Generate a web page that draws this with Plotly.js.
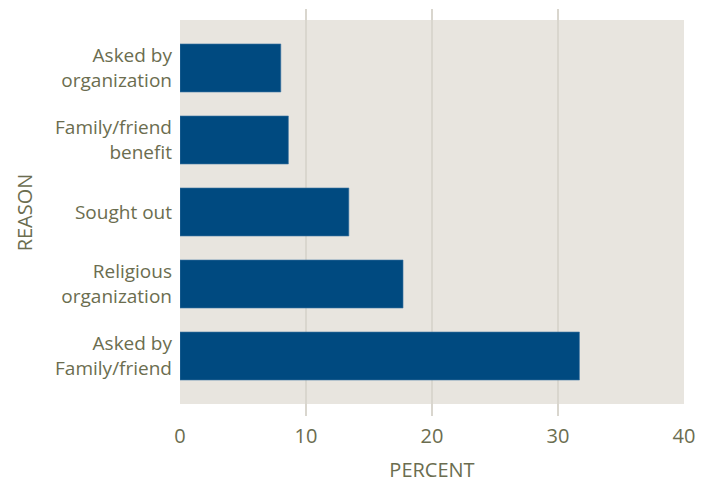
<!DOCTYPE html>
<html>
<head>
<meta charset="utf-8">
<script src="https://cdn.plot.ly/plotly-3.0.1.min.js"></script>
<style>html,body{margin:0;padding:0;background:#fff;}#chart{width:712px;height:483px;}</style>
</head>
<body>
<div id="chart"></div>
<script>
const categories = ["Asked by<br>organization", "Family/friend<br>benefit", "Sought out", "Religious<br>organization", "Asked by<br>Family/friend"];
const percents = [8.0, 8.6, 13.4, 17.7, 31.7];
const xTicks = [0, 10, 20, 30, 40];

const textColor = "#6b6d4f";
const fontFam = "'Open Sans', 'DejaVu Sans', sans-serif";

const trace = {
  type: "bar",
  orientation: "h",
  x: percents,
  y: categories,
  width: 0.667,
  marker: {color: "#004a80", line: {color: "#3f77a3", width: 0.6}},
  hoverinfo: "skip"
};

const layout = {
  width: 712, height: 483,
  margin: {l: 180, r: 28, t: 9, b: 67},
  paper_bgcolor: "#ffffff",
  plot_bgcolor: "rgba(0,0,0,0)",
  showlegend: false,
  font: {family: fontFam, color: textColor},
  xaxis: {
    range: [0, 40],
    tickvals: xTicks,
    ticktext: xTicks.map(String),
    showgrid: true, gridcolor: "#d9d6ce", gridwidth: 1.2,
    zeroline: false, showline: false, ticks: "",
    tickfont: {size: 20, color: textColor},
    ticklabelstandoff: 6,
    title: {text: "PERCENT", font: {size: 20, color: textColor}, standoff: 14},
    fixedrange: true
  },
  yaxis: {
    type: "category",
    range: [4.833, -0.819],
    showgrid: false, zeroline: false, showline: false, ticks: "",
    tickfont: {size: 19, color: textColor},
    ticklabelstandoff: 7,
    title: {text: "REASON", font: {size: 20, color: textColor}, standoff: 17},
    automargin: false,
    fixedrange: true
  },
  shapes: [{
    type: "rect", layer: "below",
    xref: "x domain", yref: "y domain",
    x0: 0, x1: 1, y0: 12/407, y1: 396/407,
    fillcolor: "#e8e5df", line: {width: 0}
  }]
};

Plotly.newPlot("chart", [trace], layout, {staticPlot: true, displayModeBar: false});
</script>
</body>
</html>
